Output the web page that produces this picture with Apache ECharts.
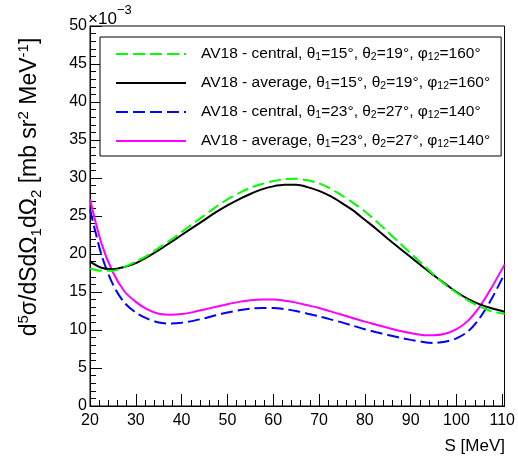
<!DOCTYPE html>
<html>
<head>
<meta charset="utf-8">
<script src="https://cdn.jsdelivr.net/npm/echarts@6/dist/echarts.min.js"></script>
<style>html,body{margin:0;padding:0;background:#fff}#c{width:518px;height:466px}</style>
</head>
<body>
<div id="c"></div>
<script>
// Values are in units of 1e-3 mb sr^-2 MeV^-1 (axis shows ×10^-3)
const seriesNames = [
  'AV18 - central, θ_{1}=15°, θ_{2}=19°, φ_{12}=160°',
  'AV18 - average, θ_{1}=15°, θ_{2}=19°, φ_{12}=160°',
  'AV18 - central, θ_{1}=23°, θ_{2}=27°, φ_{12}=140°',
  'AV18 - average, θ_{1}=23°, θ_{2}=27°, φ_{12}=140°'
];
const colors = ['#00ff00', '#000000', '#0000ff', '#ff00ff'];
const dashed = [true, false, true, false];

const sValues = [20, 22.5, 25, 27.5, 30, 32.5, 35, 37.5, 40, 42.5, 45, 47.5, 50, 52.5, 55, 57.5, 60, 62.5, 65, 67.5, 70, 72.5, 75, 77.5, 80, 82.5, 85, 87.5, 90, 92.5, 95, 97.5, 100, 102.5, 105, 107.5, 110.5];
const greenCentral15 = [18.1, 17.8, 17.8, 18.3, 19.0, 19.8, 20.8, 21.8, 22.9, 24.0, 25.1, 26.2, 27.2, 28.0, 28.7, 29.2, 29.6, 29.85, 29.9, 29.7, 29.3, 28.6, 27.7, 26.7, 25.6, 24.3, 22.9, 21.5, 20.1, 18.7, 17.3, 16.0, 14.9, 13.9, 13.1, 12.5, 12.1];
const blackAverage15 = [19.0, 18.2, 18.0, 18.3, 18.8, 19.6, 20.5, 21.5, 22.5, 23.5, 24.5, 25.5, 26.4, 27.2, 27.9, 28.5, 28.9, 29.1, 29.1, 28.8, 28.3, 27.6, 26.7, 25.7, 24.5, 23.3, 22.0, 20.8, 19.6, 18.4, 17.2, 16.1, 15.0, 14.1, 13.4, 12.9, 12.4];
const blueCentral23 = [25.9, 19.9, 16.0, 13.6, 12.3, 11.5, 11.0, 10.85, 10.95, 11.2, 11.55, 11.95, 12.3, 12.6, 12.8, 12.9, 12.9, 12.75, 12.5, 12.15, 11.8, 11.4, 11.0, 10.55, 10.1, 9.7, 9.35, 9.0, 8.7, 8.45, 8.3, 8.45, 8.9, 9.8, 11.5, 13.9, 17.4];
const magentaAverage23 = [27.2, 21.4, 17.6, 15.1, 13.7, 12.7, 12.15, 12.0, 12.1, 12.35, 12.7, 13.05, 13.4, 13.7, 13.9, 14.0, 14.0, 13.85, 13.6, 13.25, 12.9, 12.45, 12.0, 11.55, 11.1, 10.7, 10.3, 9.9, 9.6, 9.35, 9.3, 9.5, 10.1, 11.2, 13.0, 15.4, 18.6];

const xTicksMajor = 10, xTicksMinor = 2, yTicksMajor = 5;
const xMin = 20, xMax = 110.5, yMin = 0, yMax = 50;

const yTitle = 'd^{5}σ/dSdΩ_{1}dΩ_{2} [mb sr^{2} MeV^{-1}]';
const xTitle = 'S [MeV]';
const expBase = '×10';
const expPower = '−3';

const FONT = 'Liberation Sans, Arial, Helvetica, sans-serif';

function toRich(str, base) {
  let out = '';
  const re = /([_^])\{([^}]*)\}/g;
  let last = 0, m;
  while ((m = re.exec(str)) !== null) {
    if (m.index > last) out += '{' + base + '|' + str.slice(last, m.index) + '}';
    out += '{' + (m[1] === '_' ? base + 'sub' : base + 'sup') + '|' + m[2] + '}';
    last = re.lastIndex;
  }
  if (last < str.length) out += '{' + base + '|' + str.slice(last) + '}';
  return out;
}

function zip(xs, ys) { return xs.map((x, i) => [x, ys[i]]); }
const allData = [greenCentral15, blackAverage15, blueCentral23, magentaAverage23].map(ys => zip(sValues, ys));

const chart = echarts.init(document.getElementById('c'), null, {renderer: 'canvas'});

const legendRich = {
  t: {fontSize: 15.5, fontFamily: FONT, color: '#000', lineHeight: 18},
  tsub: {fontSize: 10.5, fontFamily: FONT, color: '#000', verticalAlign: 'bottom', lineHeight: 18},
  tsup: {fontSize: 10.5, fontFamily: FONT, color: '#000', verticalAlign: 'top'},
  pad: {width: 10}
};

const option = {
  animation: false,
  backgroundColor: '#fff',
  grid: {left: 90, right: 12, top: 26, bottom: 60, show: true, borderColor: '#000', borderWidth: 1, containLabel: false},
  legend: {
    orient: 'vertical',
    left: 100, top: 37,
    padding: [9, 11, 6, 15],
    itemGap: 12,
    itemWidth: 70, itemHeight: 14,
    borderColor: '#000', borderWidth: 1,
    backgroundColor: '#fff',
    itemStyle: {opacity: 0},
    data: seriesNames,
    formatter: function (name) { return '{pad|}' + toRich(name, 't'); },
    textStyle: {rich: legendRich, fontFamily: FONT, fontSize: 15.5, color: '#000'},
    selectedMode: false
  },
  xAxis: [{
    type: 'value', min: xMin, max: xMax, interval: xTicksMajor,
    position: 'bottom',
    axisLine: {show: true, onZero: false, lineStyle: {color: '#000', width: 1}},
    axisTick: {show: true, inside: true, length: 12, lineStyle: {color: '#000'}},
    axisLabel: {show: true, margin: 7, fontSize: 16, fontFamily: FONT, color: '#000',
      formatter: v => (Math.abs(v % 10) < 1e-9 ? String(v) : '')},
    splitLine: {show: false}
  }, {
    type: 'value', min: xMin, max: xMax, interval: xTicksMinor,
    position: 'bottom', offset: 0,
    axisLine: {show: false, onZero: false},
    axisTick: {show: true, inside: true, length: 6, lineStyle: {color: '#000'}},
    axisLabel: {show: false},
    splitLine: {show: false}
  }],
  yAxis: {
    type: 'value', min: yMin, max: yMax, interval: yTicksMajor,
    axisLine: {show: true, onZero: false, lineStyle: {color: '#000', width: 1}},
    axisTick: {show: true, inside: true, length: 12, lineStyle: {color: '#000'}},
    minorTick: {show: true, splitNumber: 5, length: 6, lineStyle: {color: '#000'}},
    axisLabel: {show: true, margin: 3, fontSize: 16, fontFamily: FONT, color: '#000'},
    splitLine: {show: false}
  },
  series: seriesNames.map((n, i) => ({
    name: n, type: 'line', xAxisIndex: 0, yAxisIndex: 0,
    data: allData[i], smooth: 0.3, symbol: 'none', showSymbol: false,
    color: colors[i],
    lineStyle: {color: colors[i], width: 2, type: dashed[i] ? [12, 5] : 'solid'},
    z: 10 - i,
    clip: true
  })),
  graphic: [
    {
      type: 'text', x: 30, y: 187, rotation: Math.PI / 2,
      style: {
        text: toRich(yTitle, 'y'),
        align: 'center', verticalAlign: 'middle',
        rich: {
          y: {fontSize: 23, fontFamily: FONT, fill: '#000', lineHeight: 28},
          ysub: {fontSize: 15, fontFamily: FONT, fill: '#000', verticalAlign: 'bottom', lineHeight: 28},
          ysup: {fontSize: 15, fontFamily: FONT, fill: '#000', verticalAlign: 'top'}
        }
      }
    },
    {
      type: 'text', x: 505, y: 446,
      style: {text: xTitle, align: 'right', verticalAlign: 'middle', fontSize: 17, fontFamily: FONT, fill: '#000'}
    },
    {
      type: 'text', x: 88, y: 19,
      style: {text: expBase, align: 'left', verticalAlign: 'middle', fontSize: 17, fontFamily: FONT, fill: '#000'}
    },
    {
      type: 'text', x: 117, y: 10,
      style: {text: expPower, align: 'left', verticalAlign: 'middle', fontSize: 13, fontFamily: FONT, fill: '#000'}
    }
  ]
};
chart.setOption(option);
</script>
</body>
</html>
